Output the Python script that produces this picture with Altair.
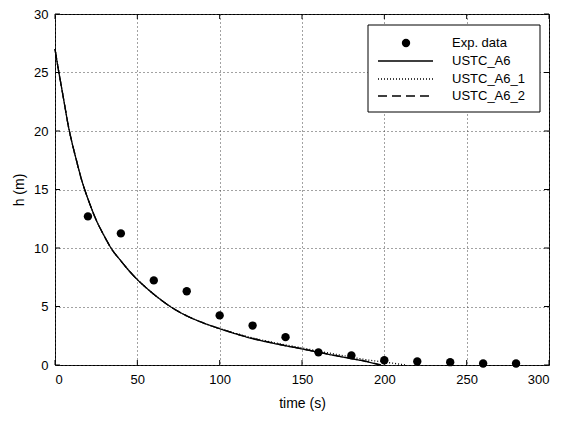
import altair as alt
import pandas as pd

# Experimental data
exp_t = [20, 40, 60, 80, 100, 120, 140, 160, 180, 200, 220, 240, 260, 280]
exp_h = [12.7, 11.25, 7.23, 6.3, 4.24, 3.37, 2.38, 1.08, 0.82, 0.41, 0.3, 0.24, 0.13, 0.13]

# USTC_A6 (solid)
a6_t = [0, 2, 4, 6, 8, 10, 13, 16, 18, 20, 25, 30, 34, 40, 45, 50, 55, 60, 65, 70, 80, 90, 100, 110, 120, 130, 140, 150, 160, 170, 180, 190, 197]
a6_h = [27.0, 25.3, 23.7, 22.1, 20.5, 19.2, 17.5, 15.9, 15.0, 14.2, 12.4, 11.0, 10.0, 8.9, 8.05, 7.3, 6.65, 6.05, 5.5, 5.0, 4.2, 3.6, 3.1, 2.65, 2.25, 1.93, 1.64, 1.37, 1.08, 0.8, 0.54, 0.26, 0.0]

# USTC_A6_1 (dotted)
a61_t = [0, 2, 4, 6, 8, 10, 13, 16, 18, 20, 25, 30, 34, 40, 45, 50, 55, 60, 65, 70, 80, 90, 100, 110, 120, 130, 140, 150, 160, 170, 180, 190, 200, 207, 213]
a61_h = [27.0, 25.3, 23.7, 22.1, 20.5, 19.2, 17.5, 15.9, 15.0, 14.2, 12.4, 11.0, 10.0, 8.9, 8.05, 7.3, 6.65, 6.05, 5.5, 5.0, 4.2, 3.6, 3.12, 2.7, 2.32, 2.0, 1.72, 1.46, 1.19, 0.93, 0.67, 0.43, 0.25, 0.12, 0.0]

# USTC_A6_2 (dashed)
a62_t = [0, 2, 4, 6, 8, 10, 13, 16, 18, 20, 25, 30, 34, 40, 45, 50, 55, 60, 65, 70, 80, 90, 100, 110, 120, 130, 140, 150, 160, 170, 180, 190, 198]
a62_h = [27.0, 25.3, 23.7, 22.1, 20.5, 19.2, 17.5, 15.9, 15.0, 14.2, 12.4, 11.0, 10.0, 8.9, 8.05, 7.3, 6.65, 6.05, 5.5, 5.0, 4.2, 3.6, 3.1, 2.66, 2.27, 1.95, 1.66, 1.39, 1.1, 0.82, 0.56, 0.28, 0.0]

series_names = ["USTC_A6", "USTC_A6_1", "USTC_A6_2"]
legend_labels = ["Exp. data", "USTC_A6", "USTC_A6_1", "USTC_A6_2"]
dash_styles = [[1, 0], [1, 2], [9, 5]]

x_ticks = [0, 50, 100, 150, 200, 250, 300]
y_ticks = [0, 5, 10, 15, 20, 25, 30]

W, H = 494, 351
TOP = 6
FONT = "Liberation Sans"

exp_df = pd.DataFrame({"t": exp_t, "h": exp_h})
rows = []
for name, ts, hs in [("USTC_A6", a6_t, a6_h), ("USTC_A6_1", a61_t, a61_h), ("USTC_A6_2", a62_t, a62_h)]:
    for i, (t, h) in enumerate(zip(ts, hs)):
        rows.append({"series": name, "t": t, "h": h, "i": i})
line_df = pd.DataFrame(rows)

dash_scale = alt.Scale(domain=series_names, range=dash_styles)

xs = alt.Scale(domain=[0, 300], nice=False, zero=False)
ys = alt.Scale(domain=[0, 30], nice=False, zero=False)

x_axis = alt.Axis(values=x_ticks, title="time (s)", grid=True, ticks=False, labelPadding=8, titlePadding=10)
y_axis = alt.Axis(values=y_ticks, title="h (m)", grid=True, ticks=False, labelPadding=7, titlePadding=7)

lines = alt.Chart(line_df).mark_line(color="black", strokeWidth=1.3, interpolate="monotone").encode(
    x=alt.X("t:Q", scale=xs, axis=x_axis),
    y=alt.Y("h:Q", scale=ys, axis=y_axis),
    detail="series:N",
    order="i:Q",
    strokeDash=alt.StrokeDash("series:N", scale=dash_scale, legend=None),
)

points = alt.Chart(exp_df).mark_point(filled=True, color="black", opacity=1, size=70, shape="circle").encode(
    x=alt.X("t:Q", scale=xs),
    y=alt.Y("h:Q", scale=ys),
)

# inward tick marks on all four sides
xt_df = pd.DataFrame({"t": x_ticks})
yt_df = pd.DataFrame({"h": y_ticks})
tick_style = dict(color="black", strokeWidth=1)
xt_bottom = alt.Chart(xt_df).mark_rule(**tick_style).encode(
    x=alt.X("t:Q", scale=xs), y=alt.value(H), y2=alt.value(H - 5))
xt_top = alt.Chart(xt_df).mark_rule(**tick_style).encode(
    x=alt.X("t:Q", scale=xs), y=alt.value(0), y2=alt.value(5))
yt_left = alt.Chart(yt_df).mark_rule(**tick_style).encode(
    y=alt.Y("h:Q", scale=ys), x=alt.value(0), x2=alt.value(5))
yt_right = alt.Chart(yt_df).mark_rule(**tick_style).encode(
    y=alt.Y("h:Q", scale=ys), x=alt.value(W), x2=alt.value(W - 5))

# manual legend (pixel positions within the plot area)
lx0, lx1, ly0, ly1 = 313, 485, 11, 98
row_y = [29, 47, 65, 82]
one = pd.DataFrame({"a": [0]})
leg_box = alt.Chart(one).mark_rect(fill="white", stroke="black", strokeWidth=1).encode(
    x=alt.value(lx0), x2=alt.value(lx1), y=alt.value(ly0), y2=alt.value(ly1))
leg_point = alt.Chart(one).mark_point(filled=True, color="black", opacity=1, size=70, shape="circle").encode(
    x=alt.value(351), y=alt.value(row_y[0]))
leg_layers = [leg_box, leg_point]
for k, name in enumerate(series_names):
    leg_layers.append(
        alt.Chart(one).mark_rule(color="black", strokeWidth=1.3, strokeDash=dash_styles[k]).encode(
            x=alt.value(323), x2=alt.value(378), y=alt.value(row_y[k + 1]))
    )
for k, lab in enumerate(legend_labels):
    leg_layers.append(
        alt.Chart(one).mark_text(text=lab, align="left", baseline="middle", fontSize=13, font=FONT, color="black").encode(
            x=alt.value(397), y=alt.value(row_y[k]))
    )

chart = alt.layer(lines, points, xt_bottom, xt_top, yt_left, yt_right, *leg_layers).properties(
    width=W, height=H,
    padding={"left": 47, "top": TOP, "right": 7, "bottom": 56},
    autosize=alt.AutoSizeParams(type="none"),
    background="white",
).configure_view(
    stroke="black", strokeWidth=1
).configure_axis(
    domain=False,
    gridColor="#444444", gridDash=[1, 3], gridWidth=1, gridOpacity=1,
    labelFont=FONT, labelFontSize=13, labelColor="black",
    titleFont=FONT, titleFontSize=14, titleFontWeight="normal", titleColor="black",
)

chart.save("out.html", embed_options={"renderer": "svg", "actions": False})
